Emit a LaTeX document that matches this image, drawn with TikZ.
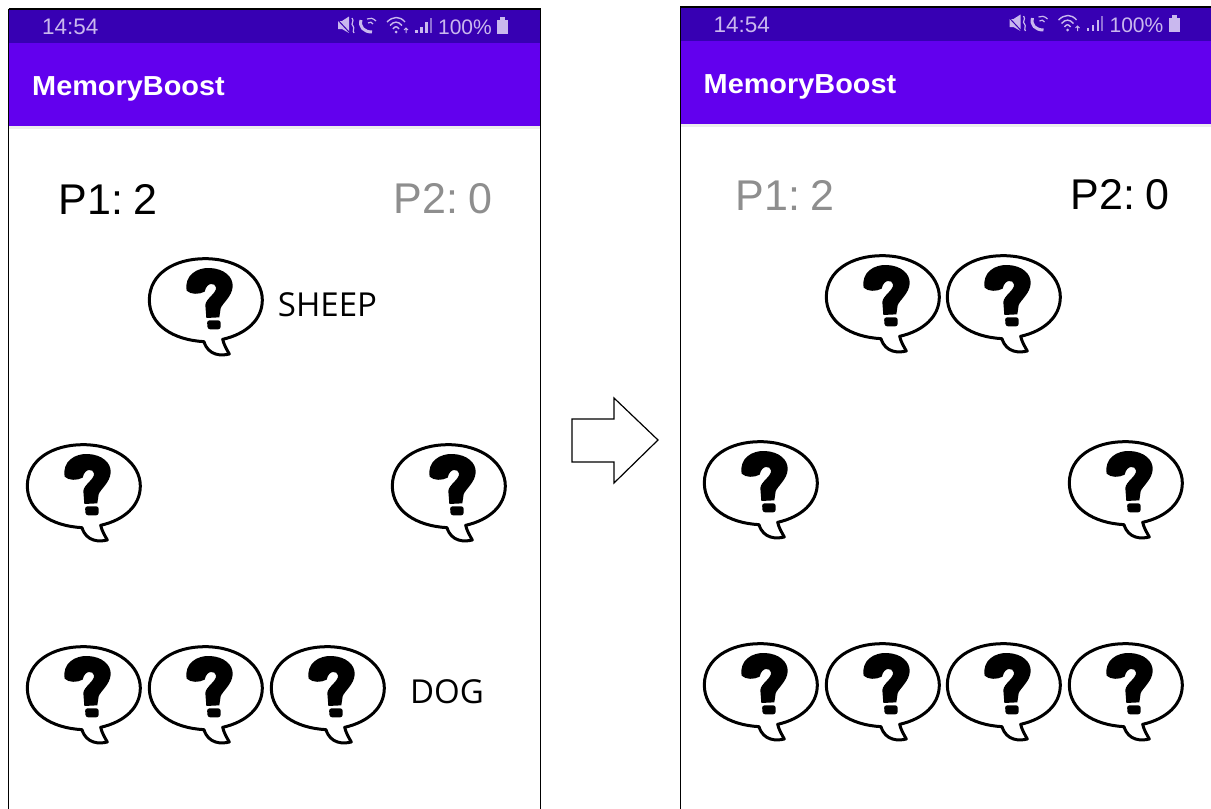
\documentclass[tikz,border=0pt]{standalone}
\usepackage{fontspec}
\setmainfont{Liberation Sans}
\newfontfamily\labelfont{Open Sans}
\newfontfamily\titlefont[FakeStretch=1.05]{Liberation Sans Bold}
\newfontfamily\scorefont[WordSpace=0.55]{Liberation Sans}
\definecolor{statusbar}{HTML}{3700B3}
\definecolor{appbar}{HTML}{6200EE}
\definecolor{statustext}{HTML}{C9B8EE}
\definecolor{dimscore}{HTML}{8E8E8E}
\tikzset{
  x=1pt,y=-1pt,
  score/.style={font=\scorefont\fontsize{43}{43}\selectfont,inner sep=0pt,anchor=center},
  wordlabel/.style={font=\labelfont\fontsize{33}{33}\selectfont,inner sep=0pt,anchor=center,text=black},
  timelabel/.style={anchor=west,inner sep=0pt,text=statustext,font=\fontsize{22.5}{22.5}\selectfont},
  batterylabel/.style={anchor=east,inner sep=0pt,text=statustext,font=\fontsize{21}{21}\selectfont},
  titlelabel/.style={anchor=west,inner sep=0pt,text=white,font=\titlefont\fontsize{27.5}{27.5}\selectfont},
  bubble/.pic={
    \begin{scope}[x=0.3333pt,y=-0.3333pt]
      \draw[black,line width=3pt,fill=white,line join=round]
        (28,150) .. controls (28,70) and (105,26) .. (195,26)
        .. controls (300,26) and (367,85) .. (367,150)
        .. controls (367,210) and (318,252) .. (248,268)
        .. controls (252,285) and (260,298) .. (268,312)
        .. controls (245,318) and (205,318) .. (192,275)
        .. controls (100,270) and (28,225) .. (28,150) -- cycle;
      \fill[black,line join=round]
        (140,122) .. controls (132,75) and (172,52) .. (210,54)
        .. controls (252,56) and (280,80) .. (278,110)
        .. controls (276,140) and (247,160) .. (242,175)
        -- (238,202) -- (199,204) -- (196,165)
        .. controls (198,145) and (230,130) .. (228,112)
        .. controls (226,98) and (200,95) .. (194,125)
        .. controls (177,134) and (152,134) .. (140,122) -- cycle;
      \fill[black,rounded corners=2.5pt] (201,211) -- (242,211) -- (242,238) -- (203,238) -- cycle;
    \end{scope}
  },
  phonetop/.pic={
    \fill[statusbar] (9,10) rectangle (540,43);
    \fill[appbar] (9,43) rectangle (540,126);
    \fill[black!7] (9,126) rectangle (540,129);
    \draw[black,line width=1.6pt] (8.5,9) -- (540.5,9);
    % muted speaker
    \fill[statustext] (338,21) -- (342,21) -- (349,16.5) -- (349,33) -- (342,29) -- (338,29) -- cycle;
    \draw[statusbar,line width=1pt] (336,18) -- (350,33);
    \draw[statustext,line width=1.2pt] (352,18) .. controls (355,21) and (350,24) .. (353,26) .. controls (355,28) and (352,31) .. (354,33);
    % call
    \draw[statustext,line width=3pt] (361,20) .. controls (359,27) and (364,32) .. (372,32);
    \draw[statustext,line width=1.2pt] (367,19) .. controls (370,17.5) and (373,18) .. (376,21);
    \draw[statustext,line width=1.2pt] (368,23) .. controls (370,21.5) and (372,22) .. (373,24);
    % wifi
    \draw[statustext,line width=1.4pt] (387,22) .. controls (393,16) and (400,16) .. (405,22);
    \draw[statustext,line width=1.4pt] (390,25.5) .. controls (394,21) and (398,21) .. (402,25.5);
    \draw[statustext,line width=1.4pt] (393,29) .. controls (395,26) and (397,26) .. (399,29);
    \fill[statustext] (396,32) circle (1.5);
    \draw[statustext,line width=1pt] (406,28) -- (406,33) (404,30) -- (406,28) -- (408,30);
    % signal
    \fill[statustext] (415,29.5) rectangle (417.5,33);
    \fill[statustext] (420,26.5) rectangle (422.5,33);
    \fill[statustext] (425,22) rectangle (427.5,33);
    \fill[statustext!60!statusbar] (429.5,18) rectangle (431.5,33);
    % battery
    \fill[statustext] (497,20) rectangle (508,34);
    \fill[statustext] (500,17) rectangle (505,20);
  }
}
\begin{document}
\begin{tikzpicture}
\useasboundingbox (0,0) rectangle (1211,809);
\fill[white] (0,0) rectangle (1211,809);

% left phone
\pic at (0,0) {phonetop};
\draw[black,line width=1.4pt] (8.5,9) -- (8.5,809);
\draw[black,line width=1.4pt] (540.5,9) -- (540.5,809);
\node[timelabel] (ltime) at (42,26.5) {14:54};
\node[batterylabel] (lbatt) at (492,27) {100\%};
\node[titlelabel] (ltitle) at (32,89) {MemoryBoost};
\node[score,text=black] (lp1) at (108,199) {P1: 2};
\node[score,text=dimscore] (lp2) at (443,199) {P2: 0};
\node[wordlabel] (lsheep) at (327.5,305) {SHEEP};
\node[wordlabel] (ldog) at (447,692) {DOG};
\pic at (140,250) {bubble};
\pic at (18,436) {bubble};
\pic at (383,436) {bubble};
\pic at (18,638) {bubble};
\pic at (140,638) {bubble};
\pic at (262,638) {bubble};

% arrow
\draw[black,line width=1.2pt,fill=white,line join=miter]
  (572,419) -- (614,419) -- (614,398) -- (658,440) -- (614,483) -- (614,462) -- (572,462) -- cycle;

% right phone
\begin{scope}
\clip (600,0) rectangle (1211,809);
\pic at (671.5,-2) {phonetop};
\end{scope}
\draw[black,line width=1.4pt] (680.5,7) -- (680.5,809);
\node[timelabel] (rtime) at (713.5,24.5) {14:54};
\node[batterylabel] (rbatt) at (1163.5,25) {100\%};
\node[titlelabel] (rtitle) at (703.5,87) {MemoryBoost};
\node[score,text=dimscore] (rp1) at (785,195) {P1: 2};
\node[score,text=black] (rp2) at (1120,195) {P2: 0};
\pic at (817,247) {bubble};
\pic at (938,247) {bubble};
\pic at (695,433) {bubble};
\pic at (1060,433) {bubble};
\pic at (695,635) {bubble};
\pic at (817,635) {bubble};
\pic at (938,635) {bubble};
\pic at (1060,635) {bubble};
\end{tikzpicture}
\end{document}
